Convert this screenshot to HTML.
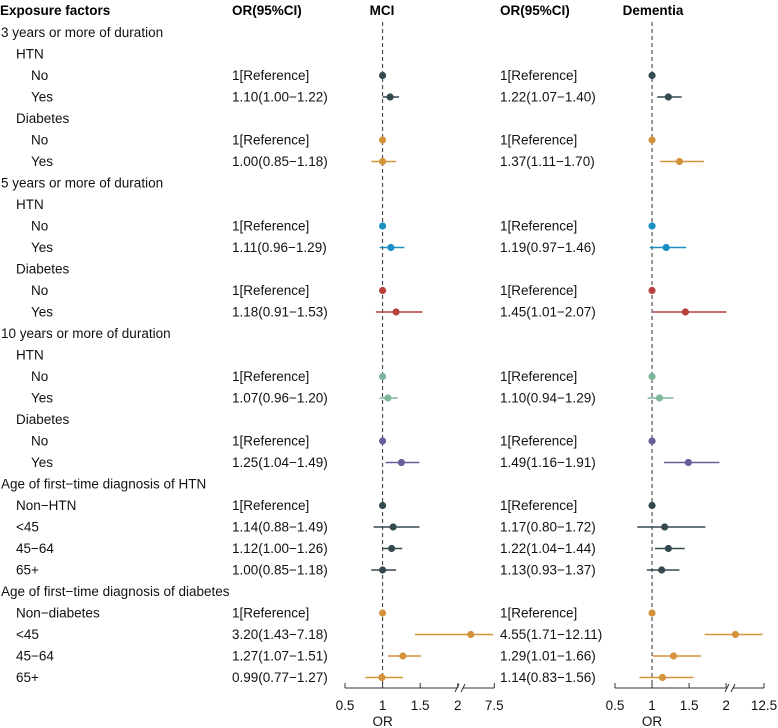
<!DOCTYPE html>
<html><head><meta charset="utf-8"><style>
body{margin:0;background:#fff}
svg{display:block;font-family:"Liberation Sans",Arial,sans-serif}
</style></head><body>
<svg id="c" width="778" height="728" xmlns="http://www.w3.org/2000/svg"></svg>
<script>
const labels=["3 years or more of duration","HTN","No","Yes","Diabetes","No","Yes","5 years or more of duration","HTN","No","Yes","Diabetes","No","Yes","10 years or more of duration","HTN","No","Yes","Diabetes","No","Yes","Age of first\u2212time diagnosis of HTN","Non\u2212HTN","<45","45\u221264","65+","Age of first\u2212time diagnosis of diabetes","Non\u2212diabetes","<45","45\u221264","65+"];
const indents=[0,1,2,2,1,2,2,0,1,2,2,1,2,2,0,1,2,2,1,2,2,0,1,1,1,1,0,1,1,1,1];
const mciText=["","","1[Reference]","1.10(1.00\u22121.22)","","1[Reference]","1.00(0.85\u22121.18)","","","1[Reference]","1.11(0.96\u22121.29)","","1[Reference]","1.18(0.91\u22121.53)","","","1[Reference]","1.07(0.96\u22121.20)","","1[Reference]","1.25(1.04\u22121.49)","","1[Reference]","1.14(0.88\u22121.49)","1.12(1.00\u22121.26)","1.00(0.85\u22121.18)","","1[Reference]","3.20(1.43\u22127.18)","1.27(1.07\u22121.51)","0.99(0.77\u22121.27)"];
const demText=["","","1[Reference]","1.22(1.07\u22121.40)","","1[Reference]","1.37(1.11\u22121.70)","","","1[Reference]","1.19(0.97\u22121.46)","","1[Reference]","1.45(1.01\u22122.07)","","","1[Reference]","1.10(0.94\u22121.29)","","1[Reference]","1.49(1.16\u22121.91)","","1[Reference]","1.17(0.80\u22121.72)","1.22(1.04\u22121.44)","1.13(0.93\u22121.37)","","1[Reference]","4.55(1.71\u221212.11)","1.29(1.01\u22121.66)","1.14(0.83\u22121.56)"];
const N=null;
const mciEst=[N,N,1,1.10,N,1,1.00,N,N,1,1.11,N,1,1.18,N,N,1,1.07,N,1,1.25,N,1,1.14,1.12,1.00,N,1,3.20,1.27,0.99];
const mciLo=[N,N,N,1.00,N,N,0.85,N,N,N,0.96,N,N,0.91,N,N,N,0.96,N,N,1.04,N,N,0.88,1.00,0.85,N,N,1.43,1.07,0.77];
const mciHi=[N,N,N,1.22,N,N,1.18,N,N,N,1.29,N,N,1.53,N,N,N,1.20,N,N,1.49,N,N,1.49,1.26,1.18,N,N,7.18,1.51,1.27];
const demEst=[N,N,1,1.22,N,1,1.37,N,N,1,1.19,N,1,1.45,N,N,1,1.10,N,1,1.49,N,1,1.17,1.22,1.13,N,1,4.55,1.29,1.14];
const demLo=[N,N,N,1.07,N,N,1.11,N,N,N,0.97,N,N,1.01,N,N,N,0.94,N,N,1.16,N,N,0.80,1.04,0.93,N,N,1.71,1.01,0.83];
const demHi=[N,N,N,1.40,N,N,1.70,N,N,N,1.46,N,N,2.07,N,N,N,1.29,N,N,1.91,N,N,1.72,1.44,1.37,N,N,12.11,1.66,1.56];
const groupColors=["#34494f","#34494f","#34494f","#34494f","#d4923a","#d4923a","#d4923a","#1a8fc4","#1a8fc4","#1a8fc4","#1a8fc4","#b8403f","#b8403f","#b8403f","#7fb59a","#7fb59a","#7fb59a","#7fb59a","#6b5d9c","#6b5d9c","#6b5d9c","#34494f","#34494f","#34494f","#34494f","#34494f","#d4923a","#d4923a","#d4923a","#d4923a","#d4923a"];
const mciTicks=[0.5,1,1.5,2,7.5];
const demTicks=[0.5,1,1.5,2,12.5];

const svg=document.getElementById('c');
const NS="http://www.w3.org/2000/svg";
function mk(tag,attrs,name,txt){const e=document.createElementNS(NS,tag);for(const k in attrs)e.setAttribute(k,attrs[k]);


if(txt!==undefined)e.textContent=txt;svg.appendChild(e);return e;}
const rowY=i=>32.5+i*21.5;
// MCI: linear 0.5-2, log 2-7.5
function xM(v){return v<=2?345+(v-0.5)*75.2:457.8+Math.log(v/2)/Math.log(7.5/2)*36.5;}
function xD(v){return v<=2?615+(v-0.5)*74.1:726.2+(v-2)/10.5*37.8;}

mk('text',{x:0,y:15,'font-size':13.5,'font-weight':'bold',fill:'#000'},'exposure-header','Exposure factors');
mk('text',{x:232,y:15,'font-size':13.5,'font-weight':'bold',fill:'#000'},'or-header-mci','OR(95%CI)');
mk('text',{x:382,y:15,'font-size':13.5,'font-weight':'bold',fill:'#000','text-anchor':'middle'},'mci-title','MCI');
mk('text',{x:500,y:15,'font-size':13.5,'font-weight':'bold',fill:'#000'},'or-header-dementia','OR(95%CI)');
mk('text',{x:653,y:15,'font-size':13.5,'font-weight':'bold',fill:'#000','text-anchor':'middle'},'dementia-title','Dementia');

labels.forEach((l,i)=>{
  const y=rowY(i)+4.5;
  mk('text',{x:1+indents[i]*15,y:y,'font-size':13.5,fill:'#111'},'row-label',l);
  if(mciText[i])mk('text',{x:232,y:y,'font-size':13.5,fill:'#111'},'mci-or-text',mciText[i]);
  if(demText[i])mk('text',{x:500,y:y,'font-size':13.5,fill:'#111'},'dementia-or-text',demText[i]);
});

const axisY=688;
[[xM,mciTicks,'mci',460],[xD,demTicks,'dementia',730]].forEach(([fx,ticks,nm,brk])=>{
  mk('line',{x1:fx(1),x2:fx(1),y1:22,y2:axisY,stroke:'#333','stroke-width':1,'stroke-dasharray':'4,3'},nm+'-reference-line');
  const x0=fx(ticks[0]),x1=fx(ticks[ticks.length-1]);
  mk('line',{x1:x0,x2:brk-3,y1:axisY,y2:axisY,stroke:'#333','stroke-width':1},nm+'-x-axis');
  mk('line',{x1:brk+3,x2:x1,y1:axisY,y2:axisY,stroke:'#333','stroke-width':1},nm+'-x-axis');
  mk('line',{x1:brk-5,x2:brk-1,y1:axisY+4,y2:axisY-4,stroke:'#333','stroke-width':1},nm+'-axis-break');
  mk('line',{x1:brk+1,x2:brk+5,y1:axisY+4,y2:axisY-4,stroke:'#333','stroke-width':1},nm+'-axis-break');
  ticks.forEach(t=>{
    mk('line',{x1:fx(t),x2:fx(t),y1:axisY,y2:axisY-5,stroke:'#333','stroke-width':1},nm+'-tick');
    mk('text',{x:fx(t),y:710,'font-size':13.5,fill:'#111','text-anchor':'middle'},nm+'-tick-label',String(t));
  });
  mk('text',{x:fx(1),y:726,'font-size':13.5,fill:'#111','text-anchor':'middle'},nm+'-x-axis-title','OR');
});

function series(fx,est,lo,hi,nm){
  est.forEach((e,i)=>{
    if(e===null)return;
    const y=rowY(i),c=groupColors[i];
    if(lo[i]!==null)mk('line',{x1:fx(lo[i]),x2:fx(hi[i]),y1:y,y2:y,stroke:c,'stroke-width':1.6},nm+'-ci');
    mk('circle',{cx:fx(e),cy:y,r:3.6,fill:c},nm+'-point');
  });
}
series(xM,mciEst,mciLo,mciHi,'mci');
series(xD,demEst,demLo,demHi,'dementia');
</script>
</body></html>
